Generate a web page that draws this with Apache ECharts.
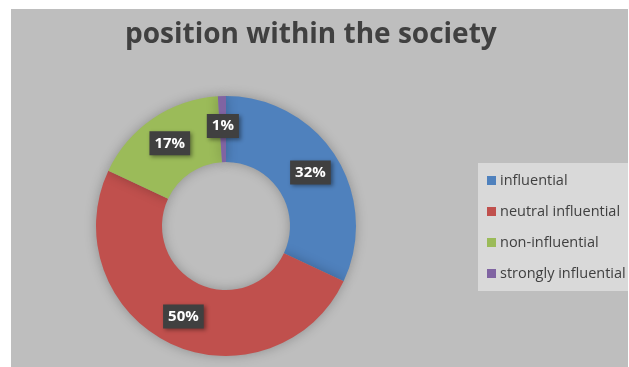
<!DOCTYPE html>
<html>
<head>
<meta charset="utf-8">
<script src="https://cdn.jsdelivr.net/npm/echarts@6/dist/echarts.min.js"></script>
<style>
  html, body { margin: 0; padding: 0; background: #ffffff; }
  #chart { position: absolute; left: 11px; top: 9px; width: 617px; height: 358px; background: #bebebe; }
</style>
</head>
<body>
<div id="chart"></div>
<script>
// Share of respondents by perceived position within the society (percent)
const categories = ['influential', 'neutral influential', 'non-influential', 'strongly influential'];
const shares = [32, 50, 17, 1];
const colors = ['#4f81bd', '#c0504d', '#9bbb59', '#8064a2'];

const chart = echarts.init(document.getElementById('chart'), null, { renderer: 'canvas' });

chart.setOption({
  animation: false,
  backgroundColor: '#bebebe',
  color: colors,
  title: {
    text: 'position within the society',
    left: 109,
    top: 7,
    textStyle: {
      fontFamily: 'Open Sans',
      fontWeight: 'bold',
      fontSize: 28,
      color: '#404040'
    }
  },
  legend: {
    orient: 'vertical',
    left: 467,
    top: 154,
    backgroundColor: '#d9d9d9',
    padding: [10, 8, 10, 9],
    itemGap: 16,
    itemWidth: 9,
    itemHeight: 9,
    icon: 'rect',
    selectedMode: false,
    textStyle: {
      fontFamily: 'Open Sans',
      fontSize: 14.5,
      color: '#404040',
      padding: [0, 0, 0, -1]
    },
    data: categories
  },
  series: [{
    type: 'pie',
    center: [215, 217],
    radius: [64, 130],
    startAngle: 90,
    clockwise: true,
    silent: true,
    itemStyle: {
      shadowBlur: 12,
      shadowColor: 'rgba(0,0,0,0.25)'
    },
    label: {
      show: true,
      position: 'inside',
      formatter: '{c}%',
      fontFamily: 'Open Sans',
      fontWeight: 'bold',
      fontSize: 15,
      color: '#ffffff',
      backgroundColor: '#404040',
      padding: [5, 5, 4, 5],
      shadowBlur: 4,
      shadowOffsetX: 2,
      shadowOffsetY: 2,
      shadowColor: 'rgba(0,0,0,0.4)'
    },
    labelLine: { show: false },
    data: categories.map((name, i) => ({ name: name, value: shares[i] }))
  }]
});
</script>
</body>
</html>
